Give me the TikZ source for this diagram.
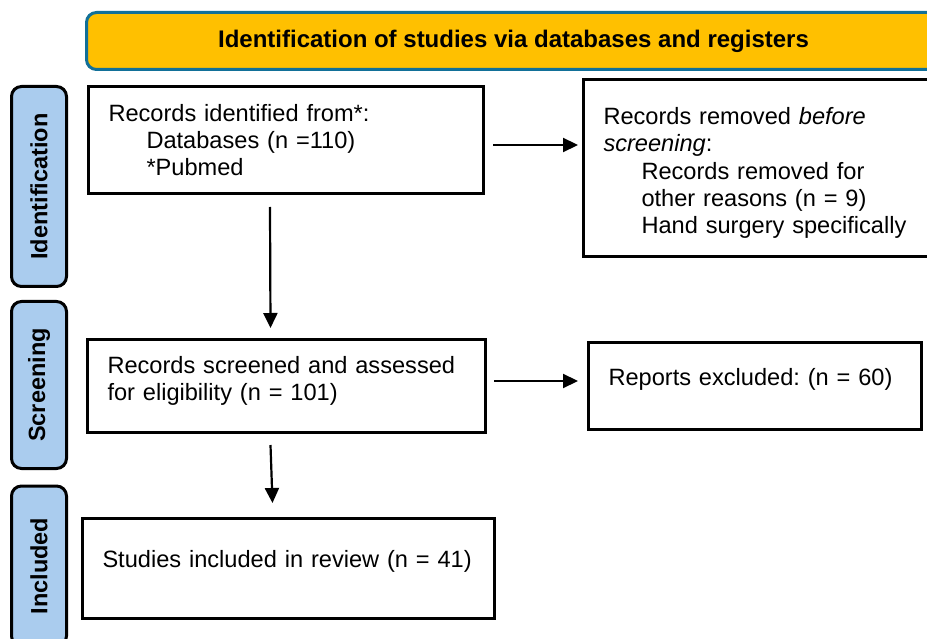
\documentclass[tikz,border=0pt]{standalone}
\usepackage{fontspec}
\setmainfont{Liberation Sans}
\usetikzlibrary{positioning}
\usetikzlibrary{arrows.meta}
\definecolor{hdrfill}{RGB}{255,192,0}
\definecolor{hdrline}{RGB}{18,112,152}
\definecolor{phasefill}{RGB}{170,204,238}

\begin{document}
\frenchspacing
\begin{tikzpicture}[x=1pt,y=-1pt,
  box/.style={draw,line width=3pt,fill=white,inner xsep=20pt,inner ysep=0pt,align=left,
    font=\fontsize{23.6}{27.3}\selectfont},
  phasebox/.style={draw,line width=3pt,fill=phasefill,rounded corners=10pt,rotate=90,
    minimum height=55pt,inner sep=0pt,font=\bfseries\fontsize{23.5}{27}\selectfont},
  arr/.style={line width=2.2pt,-{Triangle[length=15pt,width=14pt]}}]
\clip (0,0) rectangle (927,639);
\node[draw=hdrline,line width=3pt,fill=hdrfill,rounded corners=10pt,minimum width=854pt,
  minimum height=57pt,font=\bfseries\fontsize{24}{28}\selectfont] (hdr) at (513.5,41)
  {Identification of studies via databases and registers};
\node[phasebox,minimum width=200pt] (pident) at (39,186.5) {Identification};
\node[phasebox,minimum width=167pt] (pscreen) at (39,385) {Screening};
\node[phasebox,minimum width=160pt] (pincl) at (39,566) {Included};
\node[box,minimum width=395pt,minimum height=107pt,text width=355pt] (ident) at (286,140)
  {Records identified from*:\\ \hspace*{38pt}Databases (n =110)\\ \hspace*{38pt}*Pubmed};
\node[box,minimum width=377pt,minimum height=177pt,text width=337pt,text depth=104pt] (removed) at (772,168)
  {Records removed \textit{before}\\ \textit{screening}:\\ \hspace*{38pt}Records removed for\\
   \hspace*{38pt}other reasons (n = 9)\\ \hspace*{38pt}Hand surgery specifically};
\node[box,minimum width=398pt,minimum height=93pt,text width=358pt,text depth=43pt] (screen) at (286.5,386)
  {Records screened and assessed\\ for eligibility (n = 101)};
\node[box,minimum width=333pt,minimum height=87pt,text width=293pt,text depth=19pt] (reports) at (755,386)
  {\mbox{Reports excluded: (n = 60)}};
\node[box,minimum width=412pt,minimum height=100pt,text width=372pt,text depth=20pt] (studies) at (288.5,568.5)
  {\mbox{Studies included in review (n = 41)}};
\draw[arr] ([xshift=8pt,yshift=-5pt]ident.east) coordinate (a1) -- ([xshift=-4pt]removed.west |- a1);
\draw[arr] ([xshift=-16pt,yshift=-12pt]ident.south) -- ([xshift=-16pt,yshift=10pt]screen.north);
\draw[arr] ([xshift=7pt,yshift=5pt]screen.east) coordinate (a2) -- ([xshift=-9pt]reports.west |- a2);
\draw[arr] ([xshift=-16pt,yshift=-11pt]screen.south) -- ([xshift=-16pt,yshift=14pt]studies.north);
\end{tikzpicture}
\end{document}
